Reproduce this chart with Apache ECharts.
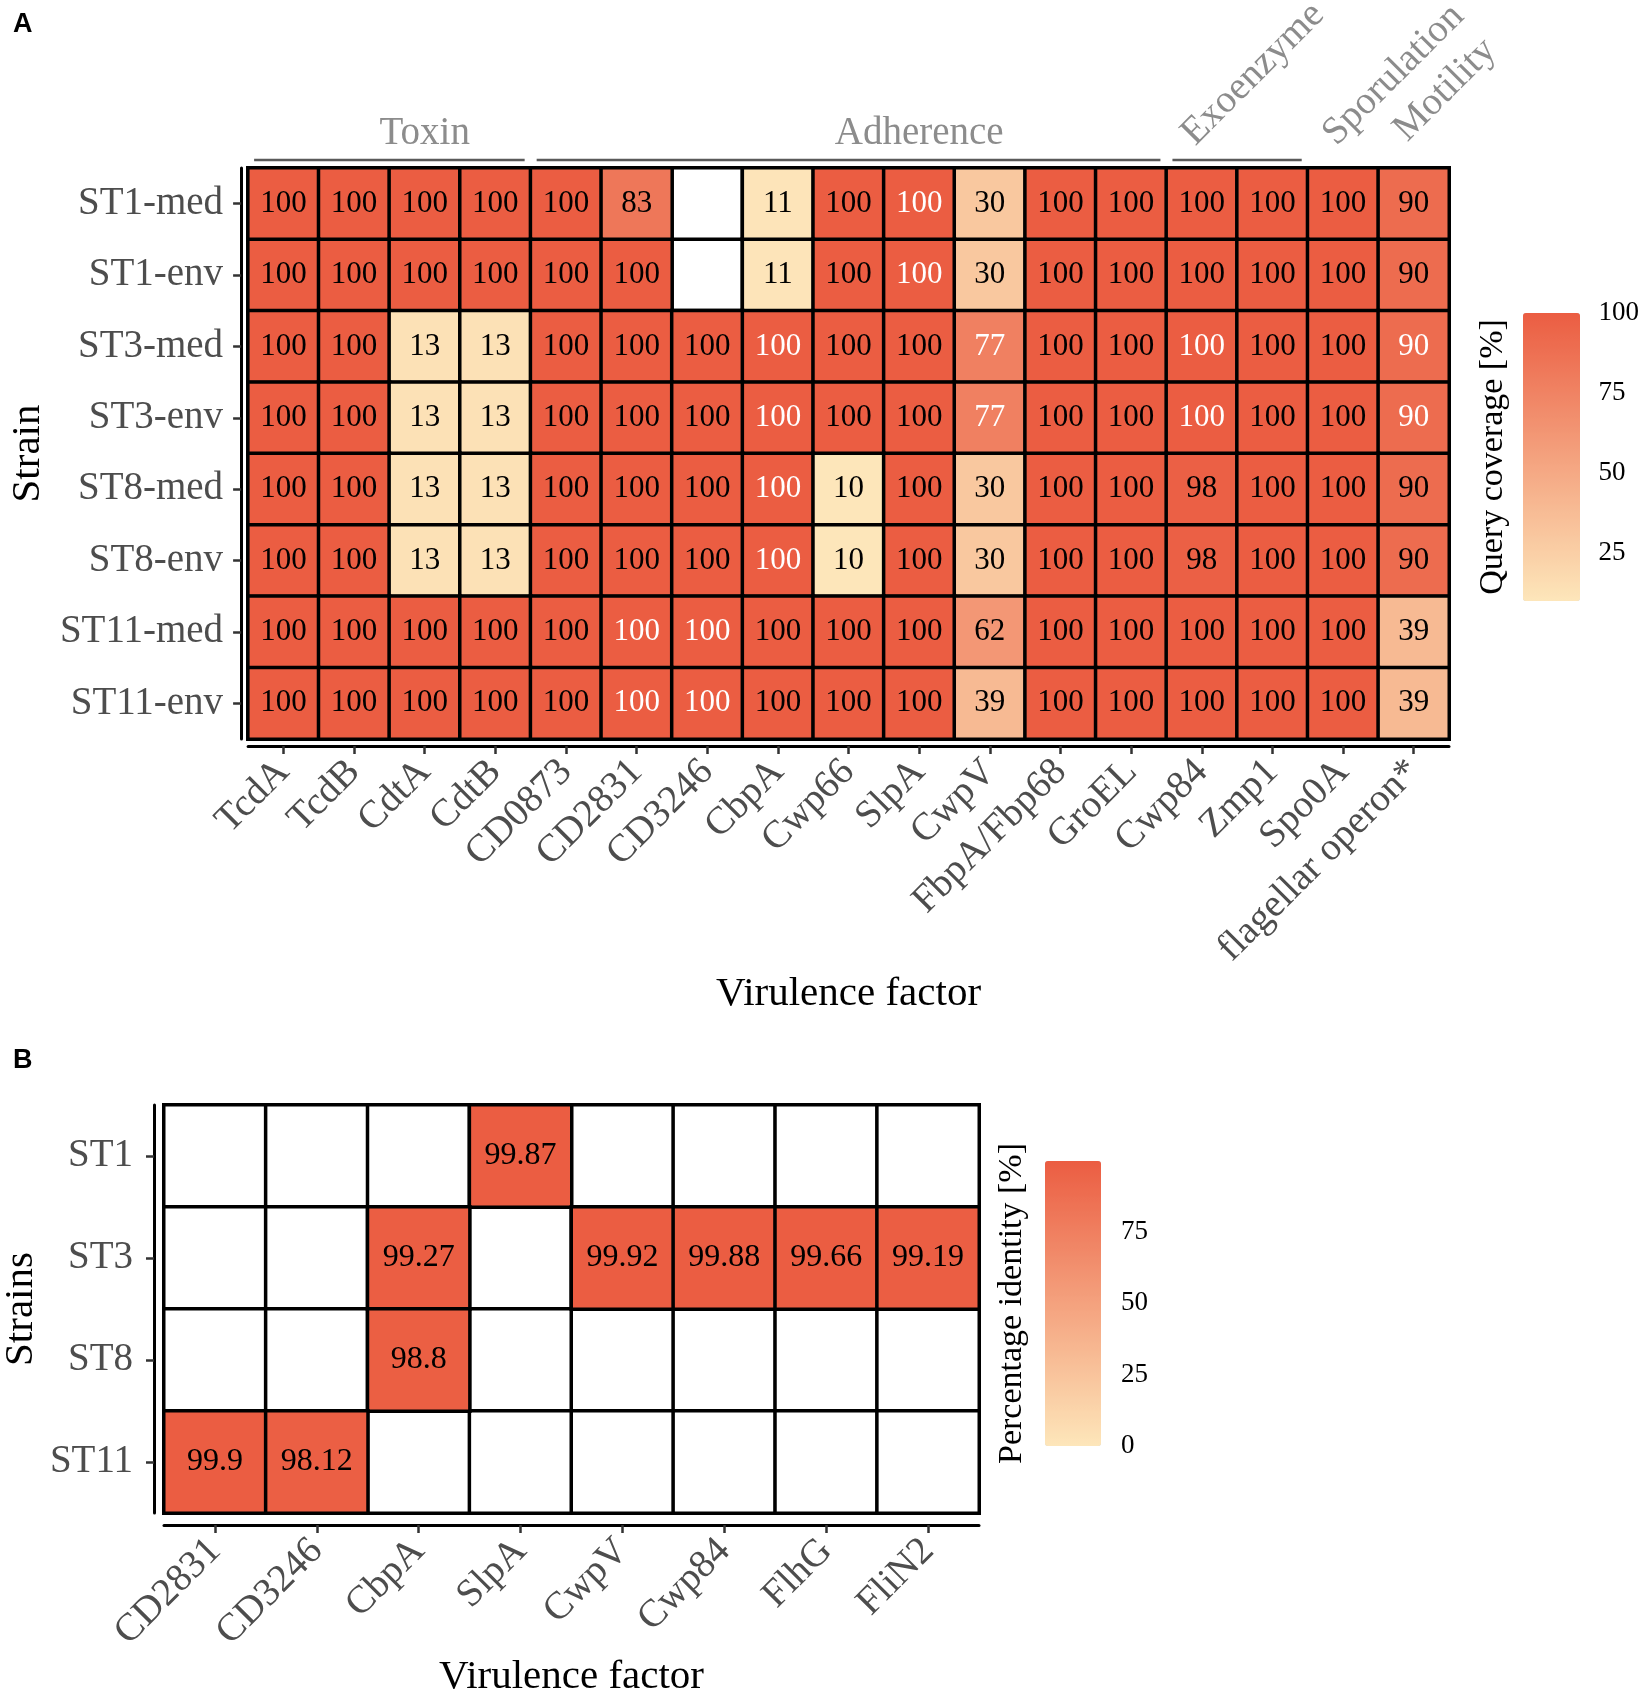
<!DOCTYPE html>
<html>
<head>
<meta charset="utf-8">
<script src="https://cdn.jsdelivr.net/npm/echarts@6/dist/echarts.min.js"></script>
<style>
  html, body { margin: 0; padding: 0; background: #fff; }
  #main { width: 1642px; height: 1699px; }
</style>
</head>
<body>
<div id="main"></div>
<script>
// panel A: query coverage
const strainsA = ['ST1-med', 'ST1-env', 'ST3-med', 'ST3-env', 'ST8-med', 'ST8-env', 'ST11-med', 'ST11-env'];
const factorsA = ['TcdA', 'TcdB', 'CdtA', 'CdtB', 'CD0873', 'CD2831', 'CD3246', 'CbpA', 'Cwp66', 'SlpA',
  'CwpV', 'FbpA/Fbp68', 'GroEL', 'Cwp84', 'Zmp1', 'Spo0A', 'flagellar operon*'];
const coverageA = [
  [100, 100, 100, 100, 100, 83, null, 11, 100, 100, 30, 100, 100, 100, 100, 100, 90],
  [100, 100, 100, 100, 100, 100, null, 11, 100, 100, 30, 100, 100, 100, 100, 100, 90],
  [100, 100, 13, 13, 100, 100, 100, 100, 100, 100, 77, 100, 100, 100, 100, 100, 90],
  [100, 100, 13, 13, 100, 100, 100, 100, 100, 100, 77, 100, 100, 100, 100, 100, 90],
  [100, 100, 13, 13, 100, 100, 100, 100, 10, 100, 30, 100, 100, 98, 100, 100, 90],
  [100, 100, 13, 13, 100, 100, 100, 100, 10, 100, 30, 100, 100, 98, 100, 100, 90],
  [100, 100, 100, 100, 100, 100, 100, 100, 100, 100, 62, 100, 100, 100, 100, 100, 39],
  [100, 100, 100, 100, 100, 100, 100, 100, 100, 100, 39, 100, 100, 100, 100, 100, 39]
];
const groupNames = ['Toxin', 'Adherence', 'Exoenzyme', 'Sporulation', 'Motility'];
const groupFirst = [0, 4, 13, 15, 16];
const groupLast = [3, 12, 14, 15, 16];
const legendTicksA = [25, 50, 75, 100];

// panel B: percentage identity
const strainsB = ['ST1', 'ST3', 'ST8', 'ST11'];
const factorsB = ['CD2831', 'CD3246', 'CbpA', 'SlpA', 'CwpV', 'Cwp84', 'FlhG', 'FliN2'];
const identityB = [
  [null, null, null, 99.87, null, null, null, null],
  [null, null, 99.27, null, 99.92, 99.88, 99.66, 99.19],
  [null, null, 98.8, null, null, null, null, null],
  [99.9, 98.12, null, null, null, null, null, null]
];
const legendTicksB = [0, 25, 50, 75];

const serif = 'Liberation Serif';
const lowCol = '#FDE6BA';
const highCol = '#EB5D42';

// group label layout (column units), vertical shift and rotation
const groupLabelCol = [1.5, 8.83, 13.27, 15.0, 15.99];
const groupLabelDy = [-34, -34, -15, -15, -19];
const groupLabelRot = [0, 0, 45, 45, 45];
const groupHasLine = [true, true, true, false, false];

// cells of panel A that also appear in panel B get white text
const bToA = { FlhG: 'flagellar operon*', FliN2: 'flagellar operon*' };
const flagged = new Set();
identityB.forEach((row, r) => row.forEach((v, c) => {
  if (v == null) return;
  const fa = bToA[factorsB[c]] || factorsB[c];
  strainsA.forEach(s => {
    if (s.split('-')[0] === strainsB[r]) flagged.add(s + '|' + fa);
  });
}));

const bgA = [], dataA = [];
coverageA.forEach((row, r) => row.forEach((v, c) => {
  bgA.push([c, r, 0]);
  if (v == null) return;
  dataA.push({
    value: [c, r, v],
    label: { color: flagged.has(strainsA[r] + '|' + factorsA[c]) ? '#fff' : '#000' }
  });
}));
const bgB = [], dataB = [];
identityB.forEach((row, r) => row.forEach((v, c) => {
  bgB.push([c, r, 0]);
  if (v != null) dataB.push([c, r, v]);
}));

const tickStyle = { show: true, length: 8, lineStyle: { color: '#333', width: 2.5 } };
const lineStyle = { show: true, lineStyle: { color: '#000', width: 3 } };
const tickLabel = { fontFamily: serif, fontSize: 39, color: '#4D4D4D' };
const titleText = { fontFamily: serif, fontSize: 41, color: '#000' };
const legendLabel = { fontFamily: serif, fontSize: 27, color: '#000' };

const chart = echarts.init(document.getElementById('main'), null, { renderer: 'canvas' });

const option = {
  backgroundColor: '#fff',
  animation: false,
  title: [
    { text: 'A', left: 8, top: 6, textStyle: { fontFamily: 'Liberation Sans', fontWeight: 'bold', fontSize: 27, color: '#000' } },
    { text: 'B', left: 8, top: 1042, textStyle: { fontFamily: 'Liberation Sans', fontWeight: 'bold', fontSize: 27, color: '#000' } }
  ],
  grid: [
    { left: 238, top: 168, width: 1211, height: 571 },
    { left: 159, top: 1105, width: 820, height: 408 },
    { left: 1523, top: 313, width: 57, height: 288 },
    { left: 1045, top: 1161, width: 56, height: 285 }
  ],
  xAxis: [
    {
      type: 'category', gridIndex: 0, data: factorsA, offset: 7,
      axisLine: lineStyle, axisTick: Object.assign({ alignWithLabel: true }, tickStyle),
      axisLabel: Object.assign({ rotate: 45, margin: 20, interval: 0 }, tickLabel),
      name: 'Virulence factor', nameLocation: 'middle', nameGap: 228, nameTextStyle: titleText,
      splitLine: { show: false }
    },
    {
      type: 'category', gridIndex: 1, data: factorsB, offset: 12,
      axisLine: lineStyle, axisTick: Object.assign({ alignWithLabel: true }, tickStyle),
      axisLabel: Object.assign({ rotate: 45, margin: 20, interval: 0 }, tickLabel),
      name: 'Virulence factor', nameLocation: 'middle', nameGap: 132, nameTextStyle: titleText,
      splitLine: { show: false }
    },
    { type: 'value', gridIndex: 2, show: false },
    { type: 'value', gridIndex: 3, show: false }
  ],
  yAxis: [
    {
      type: 'category', gridIndex: 0, data: strainsA, inverse: true, offset: 7,
      axisLine: lineStyle, axisTick: Object.assign({ alignWithLabel: true }, tickStyle),
      axisLabel: Object.assign({ margin: 18 }, tickLabel),
      name: 'Strain', nameLocation: 'middle', nameGap: 190, nameTextStyle: titleText,
      splitLine: { show: false }
    },
    {
      type: 'category', gridIndex: 1, data: strainsB, inverse: true, offset: 10,
      axisLine: lineStyle, axisTick: Object.assign({ alignWithLabel: true }, tickStyle),
      axisLabel: Object.assign({ margin: 21 }, tickLabel),
      name: 'Strains', nameLocation: 'middle', nameGap: 112, nameTextStyle: titleText,
      splitLine: { show: false }
    },
    // legend A
    {
      type: 'value', gridIndex: 2, min: 10, max: 100, position: 'right',
      axisLine: { show: false }, splitLine: { show: false },
      axisTick: { show: true, inside: true, length: 10, customValues: legendTicksA, lineStyle: { color: '#fff', width: 2 } },
      axisLabel: Object.assign({ show: true, margin: 20, customValues: legendTicksA }, legendLabel)
    },
    {
      type: 'value', gridIndex: 2, min: 10, max: 100, position: 'left',
      axisLine: { show: false }, splitLine: { show: false },
      axisTick: { show: true, inside: true, length: 10, customValues: legendTicksA, lineStyle: { color: '#fff', width: 2 } },
      axisLabel: { show: false },
      name: 'Query coverage [%]', nameLocation: 'middle', nameGap: 13,
      nameTextStyle: { fontFamily: serif, fontSize: 34, color: '#000' }
    },
    // legend B
    {
      type: 'value', gridIndex: 3, min: 0, max: 99.92, position: 'right',
      axisLine: { show: false }, splitLine: { show: false },
      axisTick: { show: true, inside: true, length: 10, customValues: legendTicksB, lineStyle: { color: '#fff', width: 2 } },
      axisLabel: Object.assign({ show: true, margin: 20, customValues: legendTicksB }, legendLabel)
    },
    {
      type: 'value', gridIndex: 3, min: 0, max: 99.92, position: 'left',
      axisLine: { show: false }, splitLine: { show: false },
      axisTick: { show: true, inside: true, length: 10, customValues: legendTicksB, lineStyle: { color: '#fff', width: 2 } },
      axisLabel: { show: false },
      name: 'Percentage identity [%]', nameLocation: 'middle', nameGap: 16,
      nameTextStyle: { fontFamily: serif, fontSize: 34, color: '#000' }
    }
  ],
  visualMap: [
    {
      type: 'continuous', seriesIndex: 1, dimension: 2, min: 10, max: 100,
      left: 1523, top: 313, itemWidth: 57, itemHeight: 288, padding: 0,
      calculable: false, text: null, showLabel: false, hoverLink: false,
      inRange: { color: [lowCol, highCol] }
    },
    {
      type: 'continuous', seriesIndex: 3, dimension: 2, min: 0, max: 99.92,
      left: 1045, top: 1161, itemWidth: 56, itemHeight: 285, padding: 0,
      calculable: false, text: null, showLabel: false, hoverLink: false,
      inRange: { color: [lowCol, highCol] }
    }
  ],
  series: [
    {
      type: 'heatmap', xAxisIndex: 0, yAxisIndex: 0, data: bgA, silent: true,
      itemStyle: { color: '#fff', borderColor: '#000', borderWidth: 3.5 }
    },
    {
      type: 'heatmap', xAxisIndex: 0, yAxisIndex: 0, data: dataA,
      itemStyle: { borderColor: '#000', borderWidth: 3.5 },
      label: { show: true, fontFamily: serif, fontSize: 31, color: '#000' }
    },
    {
      type: 'heatmap', xAxisIndex: 1, yAxisIndex: 1, data: bgB, silent: true,
      itemStyle: { color: '#fff', borderColor: '#000', borderWidth: 3.5 }
    },
    {
      type: 'heatmap', xAxisIndex: 1, yAxisIndex: 1, data: dataB,
      itemStyle: { borderColor: '#000', borderWidth: 3.5 },
      label: { show: true, fontFamily: serif, fontSize: 32, color: '#000' }
    }
  ]
};
chart.setOption(option);

// group labels above panel A, placed through the grid's coordinate system
const graphics = [];
const c00 = chart.convertToPixel({ gridIndex: 0 }, [0, 0]);
const c11 = chart.convertToPixel({ gridIndex: 0 }, [1, 1]);
const colW = c11[0] - c00[0];
const rowH = c11[1] - c00[1];
const gridTop = c00[1] - rowH / 2;
groupNames.forEach((g, i) => {
  const x0 = chart.convertToPixel({ gridIndex: 0 }, [groupFirst[i], 0])[0] - colW / 2;
  const x1 = chart.convertToPixel({ gridIndex: 0 }, [groupLast[i], 0])[0] + colW / 2;
  if (groupHasLine[i]) {
    graphics.push({
      type: 'line', shape: { x1: x0 + 6, y1: gridTop - 8, x2: x1 - 6, y2: gridTop - 8 },
      style: { stroke: '#5A5A5A', lineWidth: 2.5 }
    });
  }
  const lx = chart.convertToPixel({ gridIndex: 0 }, [groupLabelCol[i], 0])[0];
  if (groupLabelRot[i] === 0) {
    graphics.push({
      type: 'text', x: lx, y: gridTop + groupLabelDy[i],
      style: { text: g, font: '39px "Liberation Serif"', fill: '#8C8C8C', align: 'center', verticalAlign: 'middle' }
    });
  } else {
    graphics.push({
      type: 'text', x: lx, y: gridTop + groupLabelDy[i], rotation: groupLabelRot[i] * Math.PI / 180,
      style: { text: g, font: '39px "Liberation Serif"', fill: '#8C8C8C', align: 'left', verticalAlign: 'bottom' }
    });
  }
});
chart.setOption({ graphic: graphics });
</script>
</body>
</html>
